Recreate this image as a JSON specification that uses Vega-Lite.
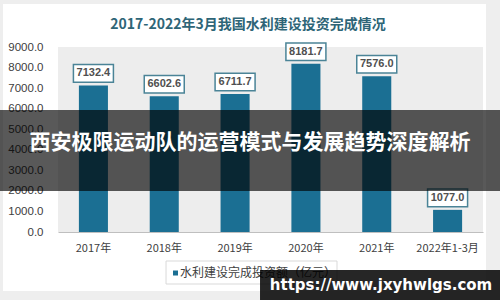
{
  "$schema": "https://vega.github.io/schema/vega-lite/v6.json",
  "width": 425,
  "height": 185,
  "autosize": {"type": "none"},
  "padding": {"left": 58, "top": 47, "right": 17, "bottom": 68},
  "background": "white",
  "config": {"view": {"stroke": null}},
  "resolve": {"scale": {"x": "independent", "y": "independent"}, "axis": {"x": "independent", "y": "independent"}},
  "layer": [
    {
      "layer": [
        {
          "data": {"values": [{"x": -0.974, "x2": 6.24, "y": 11773, "y2": -3551}]},
          "mark": {"type": "rect", "fillOpacity": 0, "stroke": "#eeeeee", "strokeWidth": 28},
          "encoding": {
            "x": {"field": "x", "type": "quantitative", "scale": {"domain": [0, 6]}, "axis": null},
            "x2": {"field": "x2"},
            "y": {"field": "y", "type": "quantitative", "scale": {"domain": [0, 9000], "nice": false}, "axis": null},
            "y2": {"field": "y2"}
          }
        },
        {
          "data": {"values": [{"x": 0, "x2": 6, "y": 0, "y2": 9000}]},
          "mark": {"type": "rect", "fill": "#ededed"},
          "encoding": {
            "x": {"field": "x", "type": "quantitative", "scale": {"domain": [0, 6]}, "axis": null},
            "x2": {"field": "x2"},
            "y": {"field": "y", "type": "quantitative", "scale": {"domain": [0, 9000], "nice": false}, "axis": null},
            "y2": {"field": "y2"}
          }
        },
        {
          "data": {"values": [{"x": 2.682, "y": 10070, "label": "2017-2022年3月我国水利建设投资完成情况"}]},
          "mark": {"type": "text", "align": "center", "baseline": "middle", "font": "Noto Sans CJK SC", "fontSize": 14, "fontWeight": "bold", "color": "#2e6577"},
          "encoding": {
            "x": {"field": "x", "type": "quantitative", "scale": {"domain": [0, 6]}, "axis": null},
            "y": {"field": "y", "type": "quantitative", "scale": {"domain": [0, 9000], "nice": false}, "axis": null},
            "text": {"field": "label"}
          }
        }
      ]
    },
    {
      "data": {
        "values": [
          {"year": "2017年", "value": 7132.4},
          {"year": "2018年", "value": 6602.6},
          {"year": "2019年", "value": 6711.7},
          {"year": "2020年", "value": 8181.7},
          {"year": "2021年", "value": 7576.0},
          {"year": "2022年1-3月", "value": 1077.0}
        ]
      },
      "encoding": {
        "x": {
          "field": "year",
          "type": "nominal",
          "sort": null,
          "scale": {"paddingInner": 0.59, "paddingOuter": 0.295},
          "axis": {
            "title": null,
            "labelAngle": 0,
            "ticks": false,
            "domainColor": "#bfbfbf",
            "domainWidth": 1,
            "labelPadding": 10,
            "labelFont": "Noto Sans CJK SC",
            "labelFontSize": 11,
            "labelColor": "#404040"
          }
        },
        "y": {
          "field": "value",
          "type": "quantitative",
          "scale": {"domain": [0, 9000], "nice": false},
          "axis": {
            "title": null,
            "values": [0, 1000, 2000, 3000, 4000, 5000, 6000, 7000, 8000, 9000],
            "format": ".1f",
            "grid": false,
            "ticks": false,
            "domain": false,
            "labelPadding": 15,
            "labelFont": "Liberation Sans",
            "labelFontSize": 11.5,
            "labelColor": "#404040"
          }
        }
      },
      "layer": [
        {"mark": {"type": "bar", "color": "#1b6f93"}},
        {
          "mark": {
            "type": "point",
            "shape": "M-1,-0.44H1V0.44H-1Z",
            "size": 1600,
            "filled": true,
            "fill": "white",
            "stroke": "#4b8497",
            "strokeWidth": 1.5,
            "opacity": 1,
            "yOffset": -12
          }
        },
        {
          "mark": {
            "type": "text",
            "yOffset": -12,
            "baseline": "middle",
            "font": "Liberation Sans",
            "fontSize": 11,
            "fontWeight": "bold",
            "color": "#505050"
          },
          "encoding": {"text": {"field": "value", "type": "quantitative", "format": ".1f"}}
        }
      ]
    },
    {
      "layer": [
        {
          "data": {"values": [{"x": 1.525, "x2": 3.939, "y": -1411, "y2": -2530}]},
          "mark": {"type": "rect", "fill": "white", "stroke": "#d9d9d9", "strokeWidth": 1},
          "encoding": {
            "x": {"field": "x", "type": "quantitative", "scale": {"domain": [0, 6]}, "axis": null},
            "x2": {"field": "x2"},
            "y": {"field": "y", "type": "quantitative", "scale": {"domain": [0, 9000], "nice": false}, "axis": null},
            "y2": {"field": "y2"}
          }
        },
        {
          "data": {"values": [{"x": 1.659, "y": -1995}]},
          "mark": {"type": "point", "shape": "square", "size": 25, "filled": true, "color": "#1b6f93", "opacity": 1},
          "encoding": {
            "x": {"field": "x", "type": "quantitative", "scale": {"domain": [0, 6]}, "axis": null},
            "y": {"field": "y", "type": "quantitative", "scale": {"domain": [0, 9000], "nice": false}, "axis": null}
          }
        },
        {
          "data": {"values": [{"x": 1.722, "y": -1995, "label": "水利建设完成投资额（亿元）"}]},
          "mark": {"type": "text", "align": "left", "baseline": "middle", "font": "Noto Sans CJK SC", "fontSize": 12, "color": "#404040"},
          "encoding": {
            "x": {"field": "x", "type": "quantitative", "scale": {"domain": [0, 6]}, "axis": null},
            "y": {"field": "y", "type": "quantitative", "scale": {"domain": [0, 9000], "nice": false}, "axis": null},
            "text": {"field": "label"}
          }
        },
        {
          "data": {"values": [{"x": -0.82, "x2": 6.24, "y": 1995, "y2": 5935}]},
          "mark": {"type": "rect", "fill": "black", "fillOpacity": 0.65},
          "encoding": {
            "x": {"field": "x", "type": "quantitative", "scale": {"domain": [0, 6]}, "axis": null},
            "x2": {"field": "x2"},
            "y": {"field": "y", "type": "quantitative", "scale": {"domain": [0, 9000], "nice": false}, "axis": null},
            "y2": {"field": "y2"}
          }
        },
        {
          "data": {"values": [{"x": 2.711, "y": 4330, "label": "西安极限运动队的运营模式与发展趋势深度解析"}]},
          "mark": {"type": "text", "align": "center", "baseline": "middle", "font": "Noto Sans CJK SC", "fontSize": 21, "fontWeight": "bold", "color": "white"},
          "encoding": {
            "x": {"field": "x", "type": "quantitative", "scale": {"domain": [0, 6]}, "axis": null},
            "y": {"field": "y", "type": "quantitative", "scale": {"domain": [0, 9000], "nice": false}, "axis": null},
            "text": {"field": "label"}
          }
        },
        {
          "data": {"values": [{"x": 2.852, "x2": 6.24, "y": -1849, "y2": -3308}]},
          "mark": {"type": "rect", "fill": "black", "fillOpacity": 0.85},
          "encoding": {
            "x": {"field": "x", "type": "quantitative", "scale": {"domain": [0, 6]}, "axis": null},
            "x2": {"field": "x2"},
            "y": {"field": "y", "type": "quantitative", "scale": {"domain": [0, 9000], "nice": false}, "axis": null},
            "y2": {"field": "y2"}
          }
        },
        {
          "data": {"values": [{"x": 4.56, "y": -2578, "label": "https://www.jxyhwlgs.com"}]},
          "mark": {"type": "text", "align": "center", "baseline": "middle", "font": "DejaVu Sans", "fontSize": 15, "fontWeight": "bold", "color": "white"},
          "encoding": {
            "x": {"field": "x", "type": "quantitative", "scale": {"domain": [0, 6]}, "axis": null},
            "y": {"field": "y", "type": "quantitative", "scale": {"domain": [0, 9000], "nice": false}, "axis": null},
            "text": {"field": "label"}
          }
        }
      ]
    }
  ]
}
